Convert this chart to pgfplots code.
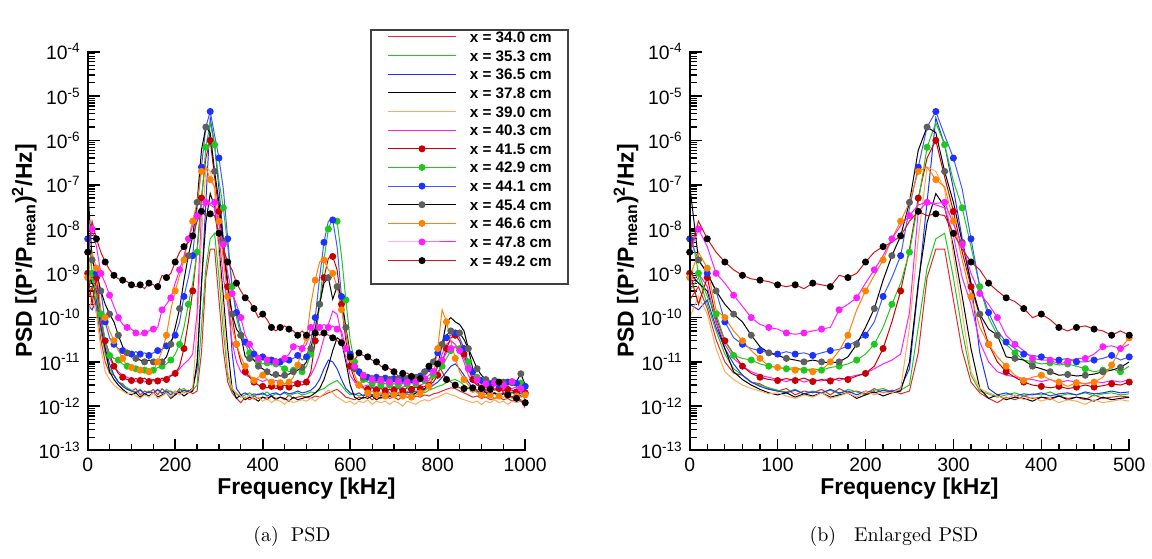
\documentclass[border=0pt]{standalone}
\usepackage{pgfplots}
\pgfplotsset{compat=1.18}
\usepackage{pgfplotstable}
\usepackage{fontspec}
\newfontfamily\arial{Liberation Sans}

\definecolor{cR}{RGB}{232,40,40}
\definecolor{cG}{RGB}{30,200,30}
\definecolor{cB}{RGB}{30,50,255}
\definecolor{cOl}{RGB}{255,170,90}
\definecolor{cM}{RGB}{255,30,255}
\definecolor{cDR}{RGB}{200,0,0}
\definecolor{cBl}{RGB}{60,90,255}
\definecolor{cGy}{RGB}{95,95,95}
\definecolor{cO}{RGB}{255,130,0}
\definecolor{cR3}{RGB}{215,20,20}

% x = 34.0 cm
\pgfplotstableread[row sep=crcr]{
f v\\
0 2.5e-10\\ 10 5e-10\\ 20 1.6e-10\\ 30 3.2e-11\\ 40 1e-11\\ 50 5.6e-12\\ 60 5e-12\\ 70 3.5e-12\\ 80 3.2e-12\\ 90 2.5e-12\\
100 2.2e-12\\ 110 2.5e-12\\ 120 1.8e-12\\ 130 2.2e-12\\ 140 2e-12\\ 150 2.4e-12\\ 160 1.8e-12\\ 170 2.5e-12\\ 180 2e-12\\ 190 2.2e-12\\
200 1.9e-12\\ 210 2.5e-12\\ 220 2e-12\\ 230 2.3e-12\\ 240 1.9e-12\\ 250 2.2e-12\\ 260 1.6e-11\\ 270 8e-10\\ 280 3.5e-9\\ 290 3.5e-9\\
300 2.5e-10\\ 310 1.8e-11\\ 320 3.5e-12\\ 330 2e-12\\ 340 1.5e-12\\ 350 1.2e-12\\ 360 1.6e-12\\ 370 1.4e-12\\ 380 1.7e-12\\ 390 1.5e-12\\
400 1.6e-12\\ 410 1.4e-12\\ 420 1.7e-12\\ 430 1.5e-12\\ 440 1.6e-12\\ 450 1.4e-12\\ 460 1.8e-12\\ 470 1.5e-12\\ 480 1.6e-12\\ 490 1.7e-12\\
500 1.6e-12\\ 510 1.5e-12\\ 520 1.7e-12\\ 530 1.6e-12\\ 540 1.8e-12\\ 550 2e-12\\ 560 2.2e-12\\ 570 2.4e-12\\ 580 2e-12\\ 590 1.6e-12\\
600 1.5e-12\\ 610 1.4e-12\\ 620 1.6e-12\\ 630 1.5e-12\\ 640 1.7e-12\\ 650 1.4e-12\\ 660 1.6e-12\\ 670 1.5e-12\\ 680 1.7e-12\\ 690 1.5e-12\\
700 1.6e-12\\ 710 1.4e-12\\ 720 1.7e-12\\ 730 1.6e-12\\ 740 1.5e-12\\ 750 1.7e-12\\ 760 1.6e-12\\ 770 1.8e-12\\ 780 1.7e-12\\ 790 1.9e-12\\
800 2e-12\\ 810 2.2e-12\\ 820 2.4e-12\\ 830 2.6e-12\\ 840 2.5e-12\\ 850 2.2e-12\\ 860 2e-12\\ 870 1.8e-12\\ 880 1.6e-12\\ 890 1.7e-12\\
900 1.5e-12\\ 910 1.6e-12\\ 920 1.4e-12\\ 930 1.5e-12\\ 940 1.6e-12\\ 950 1.4e-12\\ 960 1.5e-12\\ 970 1.3e-12\\ 980 1.5e-12\\ 990 1.4e-12\\ 1000 9e-13\\
}\tA

% x = 35.3 cm
\pgfplotstableread[row sep=crcr]{
f v\\
0 4e-10\\ 10 8e-10\\ 20 2e-10\\ 30 5e-11\\ 40 1.5e-11\\ 50 7e-12\\ 60 5e-12\\ 70 3.5e-12\\ 80 3e-12\\ 90 2.6e-12\\
100 2.3e-12\\ 110 2.1e-12\\ 120 2.4e-12\\ 130 1.9e-12\\ 140 2.2e-12\\ 150 2e-12\\ 160 2.3e-12\\ 170 1.9e-12\\ 180 2.4e-12\\ 190 2.1e-12\\
200 1.8e-12\\ 210 2.3e-12\\ 220 2.5e-12\\ 230 2.1e-12\\ 240 2.3e-12\\ 250 3e-12\\ 260 6e-11\\ 270 1.3e-9\\ 280 6e-9\\ 290 8e-9\\
300 8e-10\\ 310 5e-11\\ 320 5e-12\\ 330 2.2e-12\\ 340 1.9e-12\\ 350 1.6e-12\\ 360 1.8e-12\\ 370 2e-12\\ 380 1.7e-12\\ 390 1.9e-12\\
400 1.8e-12\\ 410 2.1e-12\\ 420 1.7e-12\\ 430 1.9e-12\\ 440 1.8e-12\\ 450 2e-12\\ 460 1.7e-12\\ 470 1.9e-12\\ 480 2e-12\\ 490 1.8e-12\\
500 1.9e-12\\ 510 2.1e-12\\ 520 2e-12\\ 530 2.3e-12\\ 540 2.5e-12\\ 550 3e-12\\ 560 3.4e-12\\ 570 3.8e-12\\ 580 3e-12\\ 590 2.2e-12\\
600 1.8e-12\\ 610 1.9e-12\\ 620 1.7e-12\\ 630 1.8e-12\\ 640 2e-12\\ 650 1.7e-12\\ 660 1.9e-12\\ 670 1.8e-12\\ 680 2e-12\\ 690 1.7e-12\\
700 1.9e-12\\ 710 2e-12\\ 720 1.8e-12\\ 730 2.1e-12\\ 740 1.9e-12\\ 750 2e-12\\ 760 2.2e-12\\ 770 2e-12\\ 780 2.3e-12\\ 790 2.5e-12\\
800 2.8e-12\\ 810 3e-12\\ 820 3.4e-12\\ 830 3.8e-12\\ 840 4e-12\\ 850 3.6e-12\\ 860 3e-12\\ 870 2.6e-12\\ 880 2.3e-12\\ 890 2.1e-12\\
900 2e-12\\ 910 1.8e-12\\ 920 2e-12\\ 930 1.9e-12\\ 940 1.7e-12\\ 950 1.9e-12\\ 960 1.8e-12\\ 970 2e-12\\ 980 1.8e-12\\ 990 1.9e-12\\ 1000 1.7e-12\\
}\tB

% x = 36.5 cm
\pgfplotstableread[row sep=crcr]{
f v\\
0 2e-10\\ 10 1.5e-10\\ 20 2.5e-10\\ 30 6e-11\\ 40 2e-11\\ 50 9e-12\\ 60 5e-12\\ 70 3.5e-12\\ 80 2.8e-12\\ 90 2.4e-12\\
100 2.2e-12\\ 110 2e-12\\ 120 2.3e-12\\ 130 1.9e-12\\ 140 2.1e-12\\ 150 2e-12\\ 160 2.4e-12\\ 170 2e-12\\ 180 2.2e-12\\ 190 1.8e-12\\
200 2.2e-12\\ 210 2e-12\\ 220 2.3e-12\\ 230 2.1e-12\\ 240 2.6e-12\\ 250 7e-12\\ 260 5e-10\\ 270 4e-8\\ 280 3.2e-6\\ 290 8e-7\\
300 8e-8\\ 310 6e-9\\ 320 6e-10\\ 330 1.6e-11\\ 340 2.5e-12\\ 350 1.8e-12\\ 360 2e-12\\ 370 1.7e-12\\ 380 1.9e-12\\ 390 1.8e-12\\
400 2e-12\\ 410 1.7e-12\\ 420 1.9e-12\\ 430 2e-12\\ 440 1.8e-12\\ 450 2.1e-12\\ 460 1.9e-12\\ 470 2e-12\\ 480 2.2e-12\\ 490 2e-12\\
500 2.1e-12\\ 510 2.3e-12\\ 520 2.8e-12\\ 530 4e-12\\ 540 7e-12\\ 550 1.1e-11\\ 560 1e-11\\ 570 7e-12\\ 580 4e-12\\ 590 2.5e-12\\
600 2e-12\\ 610 1.8e-12\\ 620 2e-12\\ 630 1.7e-12\\ 640 1.9e-12\\ 650 1.8e-12\\ 660 2e-12\\ 670 1.7e-12\\ 680 1.9e-12\\ 690 2e-12\\
700 1.8e-12\\ 710 2e-12\\ 720 1.9e-12\\ 730 2.1e-12\\ 740 2e-12\\ 750 2.2e-12\\ 760 2.1e-12\\ 770 2.4e-12\\ 780 2.6e-12\\ 790 3e-12\\
800 3.5e-12\\ 810 4.5e-12\\ 820 6e-12\\ 830 8e-12\\ 840 9e-12\\ 850 7e-12\\ 860 5e-12\\ 870 3.5e-12\\ 880 2.6e-12\\ 890 2.2e-12\\
900 2e-12\\ 910 2.1e-12\\ 920 1.9e-12\\ 930 2e-12\\ 940 1.8e-12\\ 950 2e-12\\ 960 1.9e-12\\ 970 2.1e-12\\ 980 1.8e-12\\ 990 2e-12\\ 1000 1.9e-12\\
}\tC

% x = 37.8 cm
\pgfplotstableread[row sep=crcr]{
f v\\
0 1e-9\\ 10 6e-10\\ 20 4e-10\\ 30 8e-11\\ 40 2e-11\\ 50 6e-12\\ 60 4e-12\\ 70 3e-12\\ 80 2.4e-12\\ 90 2e-12\\
100 1.8e-12\\ 110 2e-12\\ 120 1.6e-12\\ 130 1.9e-12\\ 140 1.7e-12\\ 150 2e-12\\ 160 1.6e-12\\ 170 1.8e-12\\ 180 2e-12\\ 190 1.5e-12\\
200 1.8e-12\\ 210 2.1e-12\\ 220 1.7e-12\\ 230 2e-12\\ 240 2.2e-12\\ 250 1e-11\\ 260 6e-10\\ 270 1.4e-8\\ 280 6.3e-8\\ 290 3.2e-8\\
300 4e-9\\ 310 3e-10\\ 320 2e-11\\ 330 2.5e-12\\ 340 1.5e-12\\ 350 1.8e-12\\ 360 1.4e-12\\ 370 1.6e-12\\ 380 1.5e-12\\ 390 1.3e-12\\
400 1.6e-12\\ 410 1.5e-12\\ 420 1.7e-12\\ 430 1.4e-12\\ 440 1.6e-12\\ 450 1.5e-12\\ 460 1.3e-12\\ 470 1.6e-12\\ 480 1.4e-12\\ 490 1.5e-12\\
500 1.6e-12\\ 510 1.7e-12\\ 520 2e-12\\ 530 2.5e-12\\ 540 4e-12\\ 550 8e-12\\ 560 1.8e-11\\ 570 3.5e-11\\ 580 3e-11\\ 590 1e-11\\
600 3e-12\\ 610 1.6e-12\\ 620 1.4e-12\\ 630 1.6e-12\\ 640 1.5e-12\\ 650 1.7e-12\\ 660 1.4e-12\\ 670 1.6e-12\\ 680 1.5e-12\\ 690 1.7e-12\\
700 1.6e-12\\ 710 1.8e-12\\ 720 1.6e-12\\ 730 1.9e-12\\ 740 1.7e-12\\ 750 2e-12\\ 760 2.2e-12\\ 770 2.5e-12\\ 780 3e-12\\ 790 4.5e-12\\
800 8e-12\\ 810 2.5e-11\\ 820 8e-11\\ 830 1e-10\\ 840 8e-11\\ 850 7e-11\\ 860 5e-11\\ 870 2e-11\\ 880 7e-12\\ 890 3.5e-12\\
900 2.5e-12\\ 910 2e-12\\ 920 1.8e-12\\ 930 2e-12\\ 940 1.7e-12\\ 950 1.9e-12\\ 960 1.8e-12\\ 970 1.6e-12\\ 980 1.8e-12\\ 990 1.7e-12\\ 1000 1.6e-12\\
}\tD

% x = 39.0 cm
\pgfplotstableread[row sep=crcr]{
f v\\
0 1e-10\\ 10 3e-10\\ 20 1.2e-10\\ 30 2e-11\\ 40 6e-12\\ 50 4e-12\\ 60 3e-12\\ 70 2.5e-12\\ 80 2.2e-12\\ 90 1.9e-12\\
100 2e-12\\ 110 1.7e-12\\ 120 1.5e-12\\ 130 1.8e-12\\ 140 1.6e-12\\ 150 2e-12\\ 160 1.5e-12\\ 170 1.7e-12\\ 180 2e-12\\ 190 1.6e-12\\
200 2.2e-12\\ 210 1.8e-12\\ 220 2.1e-12\\ 230 2e-12\\ 240 2.5e-12\\ 250 6e-11\\ 260 6e-9\\ 270 2.5e-7\\ 280 2e-7\\ 290 8e-8\\
300 2.5e-9\\ 310 1.3e-10\\ 320 6e-12\\ 330 2.5e-12\\ 340 2e-12\\ 350 1.7e-12\\ 360 1.5e-12\\ 370 1.8e-12\\ 380 1.4e-12\\ 390 1.6e-12\\
400 1.3e-12\\ 410 1.5e-12\\ 420 1.2e-12\\ 430 1.4e-12\\ 440 1.3e-12\\ 450 1.1e-12\\ 460 1.4e-12\\ 470 1.2e-12\\ 480 1.3e-12\\ 490 1.4e-12\\
500 1.3e-12\\ 510 1.5e-12\\ 520 1.3e-12\\ 530 1.6e-12\\ 540 1.9e-12\\ 550 2.3e-12\\ 560 2e-12\\ 570 1.6e-12\\ 580 1.4e-12\\ 590 1.2e-12\\
600 1.3e-12\\ 610 1.1e-12\\ 620 1.3e-12\\ 630 1.2e-12\\ 640 1.4e-12\\ 650 1.1e-12\\ 660 1.3e-12\\ 670 1.2e-12\\ 680 1.3e-12\\ 690 1.1e-12\\
700 1.3e-12\\ 710 1.2e-12\\ 720 1e-12\\ 730 1.3e-12\\ 740 1.2e-12\\ 750 1.1e-12\\ 760 1.3e-12\\ 770 1.4e-12\\ 780 1.3e-12\\ 790 1.5e-12\\
800 1.6e-12\\ 810 1.8e-12\\ 820 2e-12\\ 830 1.8e-12\\ 840 1.7e-12\\ 850 1.5e-12\\ 860 1.4e-12\\ 870 1.3e-12\\ 880 1.2e-12\\ 890 1.3e-12\\
900 1.1e-12\\ 910 1.3e-12\\ 920 1.2e-12\\ 930 1.4e-12\\ 940 1.2e-12\\ 950 1.3e-12\\ 960 1.1e-12\\ 970 1.3e-12\\ 980 1.2e-12\\ 990 1.3e-12\\ 1000 1.4e-12\\
}\tE

% x = 40.3 cm
\pgfplotstableread[row sep=crcr]{
f v\\
0 5e-10\\ 10 1e-9\\ 20 5e-10\\ 30 8e-11\\ 40 2.5e-11\\ 50 1.2e-11\\ 60 8e-12\\ 70 6e-12\\ 80 5e-12\\ 90 4.5e-12\\
100 4e-12\\ 110 3.6e-12\\ 120 4.2e-12\\ 130 3.5e-12\\ 140 4e-12\\ 150 3.7e-12\\ 160 4.3e-12\\ 170 3.8e-12\\ 180 4.5e-12\\ 190 5e-12\\
200 5.5e-12\\ 210 7e-12\\ 220 9e-12\\ 230 1.1e-11\\ 240 1.5e-11\\ 250 1.3e-10\\ 260 2.5e-8\\ 270 4e-8\\ 280 3.5e-8\\ 290 3e-8\\
300 7e-9\\ 310 8e-10\\ 320 2e-10\\ 330 2.8e-11\\ 340 1e-11\\ 350 6e-12\\ 360 5e-12\\ 370 4.6e-12\\ 380 4.2e-12\\ 390 4e-12\\
400 3.6e-12\\ 410 4e-12\\ 420 3.4e-12\\ 430 3.8e-12\\ 440 3.5e-12\\ 450 3.2e-12\\ 460 3.6e-12\\ 470 3.4e-12\\ 480 3.8e-12\\ 490 3.5e-12\\
500 4e-12\\ 510 5e-12\\ 520 8e-12\\ 530 1.5e-11\\ 540 3.5e-11\\ 550 7e-11\\ 560 1.4e-10\\ 570 1.2e-10\\ 580 4e-11\\ 590 1.2e-11\\
600 5e-12\\ 610 3.5e-12\\ 620 3e-12\\ 630 2.8e-12\\ 640 3e-12\\ 650 2.6e-12\\ 660 2.8e-12\\ 670 2.5e-12\\ 680 2.7e-12\\ 690 2.6e-12\\
700 2.8e-12\\ 710 2.5e-12\\ 720 2.7e-12\\ 730 2.9e-12\\ 740 2.6e-12\\ 750 2.8e-12\\ 760 3e-12\\ 770 3.3e-12\\ 780 3.8e-12\\ 790 5e-12\\
800 8e-12\\ 810 1.5e-11\\ 820 2.5e-11\\ 830 3e-11\\ 840 2.5e-11\\ 850 1.8e-11\\ 860 1e-11\\ 870 5e-12\\ 880 3.5e-12\\ 890 3e-12\\
900 2.8e-12\\ 910 2.6e-12\\ 920 2.8e-12\\ 930 2.5e-12\\ 940 2.7e-12\\ 950 2.4e-12\\ 960 2.6e-12\\ 970 2.5e-12\\ 980 2.7e-12\\ 990 2.4e-12\\ 1000 2.5e-12\\
}\tF

% x = 41.5 cm
\pgfplotstableread[row sep=crcr]{
f v\\
0 1e-9\\ 10 2e-10\\ 20 8e-10\\ 30 1e-10\\ 40 3e-11\\ 50 1.5e-11\\ 60 8e-12\\ 70 5.5e-12\\ 80 4.5e-12\\ 90 4e-12\\
100 3.8e-12\\ 110 4.2e-12\\ 120 3.8e-12\\ 130 4.3e-12\\ 140 3.6e-12\\ 150 4e-12\\ 160 3.7e-12\\ 170 4.3e-12\\ 180 4e-12\\ 190 4.8e-12\\
200 5.5e-12\\ 210 8e-12\\ 220 2e-11\\ 230 8e-11\\ 240 4e-10\\ 250 3.5e-9\\ 260 5e-8\\ 270 4e-7\\ 280 1e-6\\ 290 1.5e-7\\
300 2.5e-8\\ 310 3e-9\\ 320 5e-10\\ 330 1.1e-10\\ 340 2.5e-11\\ 350 1e-11\\ 360 6e-12\\ 370 4.5e-12\\ 380 3.5e-12\\ 390 3e-12\\
400 2.8e-12\\ 410 2.6e-12\\ 420 2.8e-12\\ 430 2.5e-12\\ 440 2.7e-12\\ 450 3e-12\\ 460 2.7e-12\\ 470 2.9e-12\\ 480 3.2e-12\\ 490 3e-12\\
500 3.5e-12\\ 510 6e-12\\ 520 3e-11\\ 530 2e-10\\ 540 8e-10\\ 550 2.2e-9\\ 560 2.4e-9\\ 570 1.2e-9\\ 580 2e-10\\ 590 3e-11\\
600 8e-12\\ 610 4e-12\\ 620 3e-12\\ 630 2.6e-12\\ 640 2.4e-12\\ 650 2.6e-12\\ 660 2.3e-12\\ 670 2.5e-12\\ 680 2.2e-12\\ 690 2.4e-12\\
700 2.3e-12\\ 710 2.5e-12\\ 720 2.2e-12\\ 730 2.6e-12\\ 740 2.4e-12\\ 750 2.7e-12\\ 760 2.5e-12\\ 770 2.8e-12\\ 780 3e-12\\ 790 3.5e-12\\
800 5e-12\\ 810 1e-11\\ 820 2e-11\\ 830 3.5e-11\\ 840 4e-11\\ 850 3e-11\\ 860 1.5e-11\\ 870 7e-12\\ 880 4e-12\\ 890 3e-12\\
900 2.6e-12\\ 910 2.4e-12\\ 920 2.6e-12\\ 930 2.3e-12\\ 940 2.5e-12\\ 950 2.2e-12\\ 960 2.4e-12\\ 970 2.3e-12\\ 980 2.1e-12\\ 990 2.3e-12\\ 1000 2e-12\\
}\tG

% x = 42.9 cm
\pgfplotstableread[row sep=crcr]{
f v\\
0 1.2e-8\\ 10 1e-9\\ 20 3e-10\\ 30 1.2e-10\\ 40 3e-11\\ 50 1.4e-11\\ 60 1.2e-11\\ 70 1.1e-11\\ 80 9e-12\\ 90 8e-12\\
100 7.5e-12\\ 110 7e-12\\ 120 7.5e-12\\ 130 6.5e-12\\ 140 7e-12\\ 150 6.5e-12\\ 160 7.5e-12\\ 170 8e-12\\ 180 9e-12\\ 190 1.1e-11\\
200 1.5e-11\\ 210 2.5e-11\\ 220 6e-11\\ 230 2e-10\\ 240 6e-10\\ 250 3e-9\\ 260 4e-8\\ 270 7e-7\\ 280 2.5e-6\\ 290 8e-7\\
300 1.2e-7\\ 310 3e-8\\ 320 4e-9\\ 330 5e-10\\ 340 1e-10\\ 350 4e-11\\ 360 2.5e-11\\ 370 1.6e-11\\ 380 1.1e-11\\ 390 1e-11\\
400 9e-12\\ 410 9.5e-12\\ 420 8.5e-12\\ 430 9e-12\\ 440 8e-12\\ 450 7e-12\\ 460 6e-12\\ 470 6.5e-12\\ 480 7e-12\\ 490 6e-12\\
500 8e-12\\ 510 1.5e-11\\ 520 4e-11\\ 530 2e-10\\ 540 2e-9\\ 550 1e-8\\ 560 1.8e-8\\ 570 1.5e-8\\ 580 2.5e-9\\ 590 2.5e-10\\
600 3e-11\\ 610 1e-11\\ 620 5e-12\\ 630 4e-12\\ 640 3.5e-12\\ 650 3.2e-12\\ 660 3.5e-12\\ 670 3e-12\\ 680 3.3e-12\\ 690 3e-12\\
700 3.2e-12\\ 710 3e-12\\ 720 3.4e-12\\ 730 3.1e-12\\ 740 3.5e-12\\ 750 3.2e-12\\ 760 3.6e-12\\ 770 3.8e-12\\ 780 4.2e-12\\ 790 5e-12\\
800 6e-12\\ 810 8e-12\\ 820 1.2e-11\\ 830 1.8e-11\\ 840 2.2e-11\\ 850 2e-11\\ 860 1.6e-11\\ 870 1e-11\\ 880 6e-12\\ 890 4.5e-12\\
900 3.8e-12\\ 910 3.5e-12\\ 920 3.2e-12\\ 930 3.5e-12\\ 940 3e-12\\ 950 3.3e-12\\ 960 3e-12\\ 970 3.4e-12\\ 980 3.1e-12\\ 990 3.3e-12\\ 1000 3e-12\\
}\tH

% x = 44.1 cm
\pgfplotstableread[row sep=crcr]{
f v\\
0 6e-9\\ 10 2e-9\\ 20 1e-9\\ 30 4e-10\\ 40 8e-11\\ 50 3.5e-11\\ 60 2.5e-11\\ 70 2e-11\\ 80 1.8e-11\\ 90 1.6e-11\\
100 1.5e-11\\ 110 1.7e-11\\ 120 1.5e-11\\ 130 1.6e-11\\ 140 1.4e-11\\ 150 1.6e-11\\ 160 1.8e-11\\ 170 1.9e-11\\ 180 2.3e-11\\ 190 3e-11\\
200 4e-11\\ 210 8e-11\\ 220 3e-10\\ 230 8e-10\\ 240 2.5e-9\\ 250 3e-8\\ 260 2.5e-7\\ 270 2e-6\\ 280 4.5e-6\\ 290 1.3e-6\\
300 4e-7\\ 310 8e-8\\ 320 6e-9\\ 330 5e-10\\ 340 1.3e-10\\ 350 5e-11\\ 360 2.8e-11\\ 370 2e-11\\ 380 1.5e-11\\ 390 1.4e-11\\
400 1.3e-11\\ 410 1.2e-11\\ 420 1.1e-11\\ 430 1.2e-11\\ 440 1e-11\\ 450 1e-11\\ 460 1.1e-11\\ 470 1.2e-11\\ 480 1.4e-11\\ 490 1.1e-11\\
500 1.3e-11\\ 510 3e-11\\ 520 1e-10\\ 530 8e-10\\ 540 5e-9\\ 550 1.5e-8\\ 560 1.6e-8\\ 570 4e-9\\ 580 3e-10\\ 590 4e-11\\
600 1.5e-11\\ 610 8e-12\\ 620 6e-12\\ 630 5e-12\\ 640 4.5e-12\\ 650 4.2e-12\\ 660 4.5e-12\\ 670 4e-12\\ 680 4.3e-12\\ 690 3.8e-12\\
700 4.2e-12\\ 710 3.9e-12\\ 720 4.1e-12\\ 730 3.7e-12\\ 740 4e-12\\ 750 4.4e-12\\ 760 4.8e-12\\ 770 5.5e-12\\ 780 7e-12\\ 790 1e-11\\
800 1.6e-11\\ 810 2.5e-11\\ 820 3.5e-11\\ 830 4e-11\\ 840 4.5e-11\\ 850 3.5e-11\\ 860 2e-11\\ 870 1e-11\\ 880 6e-12\\ 890 4.5e-12\\
900 3.8e-12\\ 910 3.5e-12\\ 920 3.2e-12\\ 930 3.4e-12\\ 940 3e-12\\ 950 3.3e-12\\ 960 3.5e-12\\ 970 3.1e-12\\ 980 3.3e-12\\ 990 3e-12\\ 1000 2.8e-12\\
}\tI

% x = 45.4 cm
\pgfplotstableread[row sep=crcr]{
f v\\
0 1e-7\\ 10 2e-9\\ 20 1e-9\\ 30 4e-10\\ 40 2e-10\\ 50 1.2e-10\\ 60 8e-11\\ 70 4e-11\\ 80 2.2e-11\\ 90 1.6e-11\\
100 1.4e-11\\ 110 1.2e-11\\ 120 1.1e-11\\ 130 1e-11\\ 140 1.1e-11\\ 150 1e-11\\ 160 9.5e-12\\ 170 1e-11\\ 180 1.3e-11\\ 190 2.5e-11\\
200 6e-11\\ 210 1.6e-10\\ 220 7e-10\\ 230 2.5e-9\\ 240 7e-9\\ 250 4e-8\\ 260 6e-7\\ 270 2e-6\\ 280 1.5e-6\\ 290 2e-7\\
300 4e-8\\ 310 5e-9\\ 320 6e-10\\ 330 1.2e-10\\ 340 5.5e-11\\ 350 4e-11\\ 360 1.3e-11\\ 370 1.2e-11\\ 380 1.1e-11\\ 390 8e-12\\
400 7e-12\\ 410 6e-12\\ 420 5e-12\\ 430 5.2e-12\\ 440 4.8e-12\\ 450 5e-12\\ 460 5.3e-12\\ 470 6e-12\\ 480 6.5e-12\\ 490 7.5e-12\\
500 1e-11\\ 510 2e-11\\ 520 6e-11\\ 530 2e-10\\ 540 6e-10\\ 550 8e-10\\ 560 2.6e-10\\ 570 5e-10\\ 580 3e-10\\ 590 6e-11\\
600 1.5e-11\\ 610 7e-12\\ 620 5e-12\\ 630 4.5e-12\\ 640 4e-12\\ 650 4.2e-12\\ 660 3.8e-12\\ 670 4e-12\\ 680 3.7e-12\\ 690 4e-12\\
700 3.8e-12\\ 710 4.1e-12\\ 720 3.9e-12\\ 730 4.2e-12\\ 740 4e-12\\ 750 4.5e-12\\ 760 5e-12\\ 770 6e-12\\ 780 7.5e-12\\ 790 1e-11\\
800 1.5e-11\\ 810 2.5e-11\\ 820 4e-11\\ 830 5e-11\\ 840 5e-11\\ 850 4.5e-11\\ 860 3.2e-11\\ 870 2e-11\\ 880 1.2e-11\\ 890 7e-12\\
900 5e-12\\ 910 4e-12\\ 920 3.6e-12\\ 930 3.8e-12\\ 940 3.3e-12\\ 950 3.5e-12\\ 960 3.2e-12\\ 970 3.4e-12\\ 980 3.6e-12\\ 990 5.4e-12\\ 1000 3e-12\\
}\tJ

% x = 46.6 cm
\pgfplotstableread[row sep=crcr]{
f v\\
0 8e-10\\ 10 3e-9\\ 20 1.3e-9\\ 30 1.5e-10\\ 40 1e-10\\ 50 5e-11\\ 60 3e-11\\ 70 1.8e-11\\ 80 1.2e-11\\ 90 8e-12\\
100 7.5e-12\\ 110 7e-12\\ 120 6.5e-12\\ 130 7e-12\\ 140 6e-12\\ 150 6.5e-12\\ 160 1e-11\\ 170 1.8e-11\\ 180 4e-11\\ 190 1.5e-10\\
200 4e-10\\ 210 9e-10\\ 220 2e-9\\ 230 6e-9\\ 240 1.5e-8\\ 250 4e-8\\ 260 2e-7\\ 270 2.5e-7\\ 280 1.3e-7\\ 290 9e-8\\
300 1.5e-8\\ 310 2e-9\\ 320 3e-10\\ 330 6e-11\\ 340 2.5e-11\\ 350 1.3e-11\\ 360 8e-12\\ 370 5e-12\\ 380 3.8e-12\\ 390 4.5e-12\\
400 5e-12\\ 410 4e-12\\ 420 3.5e-12\\ 430 2.8e-12\\ 440 3.4e-12\\ 450 3.2e-12\\ 460 3.5e-12\\ 470 4.5e-12\\ 480 8.5e-12\\ 490 2e-11\\
500 3.5e-11\\ 510 2e-10\\ 520 7e-10\\ 530 1.8e-9\\ 540 2e-9\\ 550 1.2e-9\\ 560 1e-9\\ 570 5e-10\\ 580 1.5e-10\\ 590 5e-11\\
600 1.2e-11\\ 610 5e-12\\ 620 3e-12\\ 630 2.5e-12\\ 640 2e-12\\ 650 2.2e-12\\ 660 1.8e-12\\ 670 2e-12\\ 680 1.7e-12\\ 690 1.9e-12\\
700 1.8e-12\\ 710 2e-12\\ 720 1.7e-12\\ 730 1.9e-12\\ 740 1.6e-12\\ 750 1.8e-12\\ 760 2e-12\\ 770 2.2e-12\\ 780 2.8e-12\\ 790 5e-12\\
800 2e-11\\ 810 1.5e-10\\ 820 8e-11\\ 830 3e-11\\ 840 1.2e-11\\ 850 6e-12\\ 860 4e-12\\ 870 3e-12\\ 880 2.4e-12\\ 890 2e-12\\
900 1.8e-12\\ 910 1.6e-12\\ 920 1.8e-12\\ 930 1.5e-12\\ 940 1.7e-12\\ 950 1.6e-12\\ 960 1.8e-12\\ 970 1.5e-12\\ 980 1.7e-12\\ 990 1.6e-12\\ 1000 1.8e-12\\
}\tK

% x = 47.8 cm
\pgfplotstableread[row sep=crcr]{
f v\\
0 3e-9\\ 10 1e-8\\ 20 4e-9\\ 30 1e-9\\ 40 6e-10\\ 50 3.2e-10\\ 60 1.8e-10\\ 70 1e-10\\ 80 7e-11\\ 90 6e-11\\
100 5.5e-11\\ 110 4.5e-11\\ 120 4.2e-11\\ 130 4.5e-11\\ 140 5e-11\\ 150 5.5e-11\\ 160 6e-11\\ 170 1.5e-10\\ 180 2e-10\\ 190 2.8e-10\\
200 6e-10\\ 210 1.2e-9\\ 220 2.5e-9\\ 230 6e-9\\ 240 1.2e-8\\ 250 2e-8\\ 260 3.5e-8\\ 270 4e-8\\ 280 3.8e-8\\ 290 4e-8\\
300 1.3e-8\\ 310 4.5e-9\\ 320 1e-9\\ 330 3.5e-10\\ 340 2e-10\\ 350 1e-10\\ 360 4e-11\\ 370 2.5e-11\\ 380 1.8e-11\\ 390 1.2e-11\\
400 1.1e-11\\ 410 1.1e-11\\ 420 9e-12\\ 430 1e-11\\ 440 1.2e-11\\ 450 1.2e-11\\ 460 1.5e-11\\ 470 2.2e-11\\ 480 2.3e-11\\ 490 2e-11\\
500 2.5e-11\\ 510 6e-11\\ 520 7e-11\\ 530 6e-11\\ 540 7e-11\\ 550 6e-11\\ 560 6.5e-11\\ 570 5.5e-11\\ 580 5e-11\\ 590 2e-11\\
600 1.4e-11\\ 610 8e-12\\ 620 6e-12\\ 630 5e-12\\ 640 4.5e-12\\ 650 4e-12\\ 660 3.5e-12\\ 670 3.8e-12\\ 680 3.2e-12\\ 690 3.5e-12\\
700 3.3e-12\\ 710 3.6e-12\\ 720 3.2e-12\\ 730 3.5e-12\\ 740 3.3e-12\\ 750 3.6e-12\\ 760 3.8e-12\\ 770 4.2e-12\\ 780 5e-12\\ 790 6e-12\\
800 8e-12\\ 810 1.1e-11\\ 820 1.6e-11\\ 830 2e-11\\ 840 2.2e-11\\ 850 1.8e-11\\ 860 1.2e-11\\ 870 7e-12\\ 880 5e-12\\ 890 4e-12\\
900 3.5e-12\\ 910 3.2e-12\\ 920 3.6e-12\\ 930 3.3e-12\\ 940 3.5e-12\\ 950 3e-12\\ 960 3.3e-12\\ 970 3.6e-12\\ 980 3.1e-12\\ 990 2.5e-12\\ 1000 1.3e-12\\
}\tL

% x = 49.2 cm
\pgfplotstableread[row sep=crcr]{
f v\\
0 3e-9\\ 10 1.5e-8\\ 20 6e-9\\ 30 3e-9\\ 40 1.8e-9\\ 50 1.2e-9\\ 60 9e-10\\ 70 7.5e-10\\ 80 7e-10\\ 90 6.5e-10\\
100 5.5e-10\\ 110 5e-10\\ 120 5.5e-10\\ 130 4.5e-10\\ 140 6e-10\\ 150 5.5e-10\\ 160 5e-10\\ 170 9e-10\\ 180 8e-10\\ 190 1e-9\\
200 1.8e-9\\ 210 3e-9\\ 220 4e-9\\ 230 5e-9\\ 240 7e-9\\ 250 1.5e-8\\ 260 2.5e-8\\ 270 2e-8\\ 280 2.2e-8\\ 290 2e-8\\
300 8e-9\\ 310 3.5e-9\\ 320 1.8e-9\\ 330 1.2e-9\\ 340 6e-10\\ 350 4e-10\\ 360 2.8e-10\\ 370 2.3e-10\\ 380 1.6e-10\\ 390 1e-10\\
400 1.2e-10\\ 410 9e-11\\ 420 6e-11\\ 430 5e-11\\ 440 6e-11\\ 450 6.5e-11\\ 460 5.5e-11\\ 470 5e-11\\ 480 4e-11\\ 490 5e-11\\
500 4e-11\\ 510 4e-11\\ 520 4.5e-11\\ 530 4e-11\\ 540 4.5e-11\\ 550 4e-11\\ 560 3.5e-11\\ 570 3e-11\\ 580 2.7e-11\\ 590 2e-11\\
600 1.3e-11\\ 610 1.1e-11\\ 620 1.6e-11\\ 630 1.4e-11\\ 640 1.3e-11\\ 650 1.1e-11\\ 660 1e-11\\ 670 8e-12\\ 680 7.5e-12\\ 690 7e-12\\
700 6e-12\\ 710 4.7e-12\\ 720 5.5e-12\\ 730 5.6e-12\\ 740 4.7e-12\\ 750 4.7e-12\\ 760 4.2e-12\\ 770 5e-12\\ 780 8e-12\\ 790 1e-11\\
800 9e-12\\ 810 6e-12\\ 820 4e-12\\ 830 3.5e-12\\ 840 3e-12\\ 850 2.6e-12\\ 860 2.5e-12\\ 870 2.5e-12\\ 880 2.6e-12\\ 890 2.3e-12\\
900 2.5e-12\\ 910 2.2e-12\\ 920 2.4e-12\\ 930 3e-12\\ 940 3.5e-12\\ 950 2e-12\\ 960 1.8e-12\\ 970 1.6e-12\\ 980 1.5e-12\\ 990 1.3e-12\\ 1000 1.2e-12\\
}\tM

\newcommand{\allplots}{%
\addplot[cR] table {\tA};
\addplot[cG] table {\tB};
\addplot[cB] table {\tC};
\addplot[black] table {\tD};
\addplot[cOl] table {\tE};
\addplot[cM] table {\tF};
\addplot[cDR, mark=*, mark repeat=2, mark phase=1, mark options={fill=cDR, draw=cDR}] table {\tG};
\addplot[cG, mark=*, mark repeat=2, mark phase=2, mark options={fill=cG, draw=cG}] table {\tH};
\addplot[cBl, mark=*, mark repeat=2, mark phase=1, mark options={fill=cB, draw=cB}] table {\tI};
\addplot[black, mark=*, mark repeat=2, mark phase=2, mark options={fill=cGy, draw=cGy}] table {\tJ};
\addplot[cO, mark=*, mark repeat=2, mark phase=1, mark options={fill=cO, draw=cO}] table {\tK};
\addplot[cM, mark=*, mark repeat=2, mark phase=2, mark options={fill=cM, draw=cM}] table {\tL};
\addplot[cR3, mark=*, mark repeat=2, mark phase=1, mark options={fill=black, draw=black}] table {\tM};
}

\newcommand{\ticklabfont}{\arial\fontsize{9.7}{11}\selectfont}
\newcommand{\labfont}{\arial\bfseries\fontsize{11.5}{13}\selectfont}

\begin{document}
\begin{tikzpicture}
\path (0pt,0pt) rectangle (576pt,280pt);
\begin{axis}[
  scale only axis, height=200pt, width=219.5pt,
  at={(44pt,54pt)}, anchor=south west,
  ymode=log, ymin=1e-13, ymax=1e-4,
  ytick={1e-13,1e-12,1e-11,1e-10,1e-9,1e-8,1e-7,1e-6,1e-5,1e-4},
  yticklabels={10\textsuperscript{-13},10\textsuperscript{-12},10\textsuperscript{-11},10\textsuperscript{-10},10\textsuperscript{-9},10\textsuperscript{-8},10\textsuperscript{-7},10\textsuperscript{-6},10\textsuperscript{-5},10\textsuperscript{-4}},
  minor ytick={2e-13,3e-13,4e-13,5e-13,6e-13,7e-13,8e-13,9e-13,2e-12,3e-12,4e-12,5e-12,6e-12,7e-12,8e-12,9e-12,2e-11,3e-11,4e-11,5e-11,6e-11,7e-11,8e-11,9e-11,2e-10,3e-10,4e-10,5e-10,6e-10,7e-10,8e-10,9e-10,2e-9,3e-9,4e-9,5e-9,6e-9,7e-9,8e-9,9e-9,2e-8,3e-8,4e-8,5e-8,6e-8,7e-8,8e-8,9e-8,2e-7,3e-7,4e-7,5e-7,6e-7,7e-7,8e-7,9e-7,2e-6,3e-6,4e-6,5e-6,6e-6,7e-6,8e-6,9e-6,2e-5,3e-5,4e-5,5e-5,6e-5,7e-5,8e-5,9e-5},
  xtick pos=left, ytick pos=left,
  axis line style={draw=none},
  tick align=inside,
  major tick length=6pt, minor tick length=3.5pt,
  every tick/.style={draw=black, line width=0.8pt},
  every minor tick/.style={draw=black, line width=0.6pt},
  tick label style={font=\ticklabfont},
  label style={font=\labfont},
  xlabel={Frequency [kHz]},
  ylabel={PSD [(P'/P\textsubscript{mean})\textsuperscript{2}/Hz]},
  xlabel style={at={(axis description cs:0.5,-0.095)}, anchor=center},
  ylabel style={at={(axis description cs:-0.145,0.5)}, anchor=center},
  every axis plot/.append style={line width=0.5pt},
  mark size=1.5pt,
  xmin=0, xmax=1000,
  xtick={0,200,400,600,800,1000}, xticklabels={0,200,400,600,800,1000},
  minor xtick={50,100,150,250,300,350,450,500,550,650,700,750,850,900,950},
  legend entries={{x = 34.0 cm},{x = 35.3 cm},{x = 36.5 cm},{x = 37.8 cm},{x = 39.0 cm},{x = 40.3 cm},{x = 41.5 cm},{x = 42.9 cm},{x = 44.1 cm},{x = 45.4 cm},{x = 46.6 cm},{x = 47.8 cm},{x = 49.2 cm}},
  legend image code/.code={\draw[#1, mark repeat=2, mark phase=2] plot coordinates {(0pt,0pt) (17.25pt,0pt) (34.5pt,0pt)};},
  legend style={at={(axis description cs:0.6834,1.052)}, anchor=north west,
    draw=none, fill=none, inner sep=0pt, row sep=3.85pt, column sep=6.5pt,
    font=\arial\bfseries\fontsize{7.65}{8}\selectfont,
    nodes={inner sep=0pt, text height=5.5pt, text depth=0pt}},
  legend cell align=left,
]
\allplots
\end{axis}
\draw[line width=1pt, line cap=rect] (44pt,254pt) -- (44pt,54pt) -- (263.5pt,54pt);
\draw[line width=0.8pt, black!75] (186pt,137.5pt) rectangle (285pt,265pt);

\begin{axis}[
  scale only axis, height=200pt, width=220.5pt,
  at={(346pt,54pt)}, anchor=south west,
  ymode=log, ymin=1e-13, ymax=1e-4,
  ytick={1e-13,1e-12,1e-11,1e-10,1e-9,1e-8,1e-7,1e-6,1e-5,1e-4},
  yticklabels={10\textsuperscript{-13},10\textsuperscript{-12},10\textsuperscript{-11},10\textsuperscript{-10},10\textsuperscript{-9},10\textsuperscript{-8},10\textsuperscript{-7},10\textsuperscript{-6},10\textsuperscript{-5},10\textsuperscript{-4}},
  minor ytick={2e-13,3e-13,4e-13,5e-13,6e-13,7e-13,8e-13,9e-13,2e-12,3e-12,4e-12,5e-12,6e-12,7e-12,8e-12,9e-12,2e-11,3e-11,4e-11,5e-11,6e-11,7e-11,8e-11,9e-11,2e-10,3e-10,4e-10,5e-10,6e-10,7e-10,8e-10,9e-10,2e-9,3e-9,4e-9,5e-9,6e-9,7e-9,8e-9,9e-9,2e-8,3e-8,4e-8,5e-8,6e-8,7e-8,8e-8,9e-8,2e-7,3e-7,4e-7,5e-7,6e-7,7e-7,8e-7,9e-7,2e-6,3e-6,4e-6,5e-6,6e-6,7e-6,8e-6,9e-6,2e-5,3e-5,4e-5,5e-5,6e-5,7e-5,8e-5,9e-5},
  xtick pos=left, ytick pos=left,
  axis line style={draw=none},
  tick align=inside,
  major tick length=6pt, minor tick length=3.5pt,
  every tick/.style={draw=black, line width=0.8pt},
  every minor tick/.style={draw=black, line width=0.6pt},
  tick label style={font=\ticklabfont},
  label style={font=\labfont},
  xlabel={Frequency [kHz]},
  ylabel={PSD [(P'/P\textsubscript{mean})\textsuperscript{2}/Hz]},
  xlabel style={at={(axis description cs:0.5,-0.095)}, anchor=center},
  ylabel style={at={(axis description cs:-0.145,0.5)}, anchor=center},
  every axis plot/.append style={line width=0.5pt},
  mark size=1.5pt,
  xmin=0, xmax=500,
  xtick={0,100,200,300,400,500}, xticklabels={0,100,200,300,400,500},
  minor xtick={20,40,60,80,120,140,160,180,220,240,260,280,320,340,360,380,420,440,460,480},
]
\allplots
\end{axis}
\draw[line width=1pt, line cap=rect] (346pt,254pt) -- (346pt,54pt) -- (566.5pt,54pt);

\node[font=\fontsize{10}{12}\selectfont] at (146.5pt,11pt) {(a)\hspace{0.6em}PSD};
\node[font=\fontsize{10}{12}\selectfont] at (448.5pt,11pt) {(b)\hspace{0.9em}Enlarged PSD};
\end{tikzpicture}
\end{document}
